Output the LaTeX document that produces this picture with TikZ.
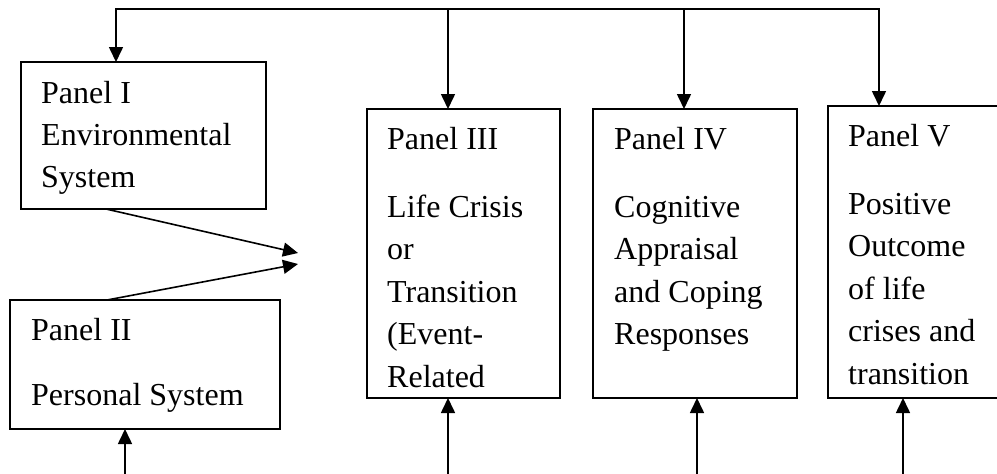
\documentclass[tikz,border=0pt]{standalone}
\usepackage{fontspec}
\setmainfont{Liberation Serif}
\usetikzlibrary{arrows.meta,fit}
\tikzset{
  panel/.style={draw, line width=1.5pt, inner sep=0pt, outer sep=0pt, rectangle},
  txt/.style={anchor=base west, inner sep=0pt, font=\fontsize{32}{38}\selectfont},
  conn/.style={line width=1.6pt, -{Triangle[length=15pt,width=14pt]}},
  bus/.style={line width=1.6pt, {Triangle[length=15pt,width=14pt]}-{Triangle[length=15pt,width=14pt]}},
}
\begin{document}
\begin{tikzpicture}[x=1pt,y=-1pt]
\clip (0,0) rectangle (997,474);
\fill[white] (0,0) rectangle (997,474);

% boxes
\node[panel, fit={(21,62) (266,209)}] (P1) {};
\node[panel, fit={(10,300) (280,429)}] (P2) {};
\node[panel, fit={(367,109) (560,398)}] (P3) {};
\node[panel, fit={(593,109) (797,398)}] (P4) {};
\node[panel, fit={(828,106) (1002,398)}] (P5) {};

% texts
\foreach \t/\y [count=\i] in {{Panel I}/103, {Environmental}/145, {System}/187}
  \node[txt] (P1t\i) at (41,\y) {\t};
\foreach \t/\y [count=\i] in {{Panel II}/340, {Personal System}/405}
  \node[txt] (P2t\i) at (31,\y) {\t};
\foreach \t/\y [count=\i] in {{Panel III}/149, {Life Crisis}/217, {or}/259.5, {Transition}/302, {(Event-}/344.5, {Related}/387}
  \node[txt] (P3t\i) at (387,\y) {\t};
\foreach \t/\y [count=\i] in {{Panel IV}/149, {Cognitive}/217, {Appraisal}/259.5, {and Coping}/302, {Responses}/344.5}
  \node[txt] (P4t\i) at (614,\y) {\t};
\foreach \t/\y [count=\i] in {{Panel V}/146, {Positive}/214, {Outcome}/256.5, {of life}/299, {crises and}/341.5, {transition}/384}
  \node[txt] (P5t\i) at (848,\y) {\t};

% top bus
\coordinate (b1) at (116,9);
\coordinate (b3) at (448,9);
\coordinate (b4) at (684,9);
\coordinate (b5) at (879,9);
\draw[bus] (b1 |- P1.north) -- (b1) -- (b5) -- (b5 |- P5.north);
\draw[conn] (b3) -- (b3 |- P3.north);
\draw[conn] (b4) -- (b4 |- P4.north);

% bottom inputs
\coordinate (u2) at (125,476);
\coordinate (u3) at (448,476);
\coordinate (u4) at (697,476);
\coordinate (u5) at (903,476);
\draw[conn] (u2) -- (u2 |- P2.south);
\draw[conn] (u3) -- (u3 |- P3.south);
\draw[conn] (u4) -- (u4 |- P4.south);
\draw[conn] (u5) -- (u5 |- P5.south);

% converging arrows
\coordinate (s1) at (106,0);
\coordinate (s2) at (107,0);
\coordinate (e1) at (298,253);
\coordinate (e2) at (298,264);
\draw[conn] (s1 |- P1.south) -- (e1);
\draw[conn] (s2 |- P2.north) -- (e2);
\end{tikzpicture}
\end{document}
